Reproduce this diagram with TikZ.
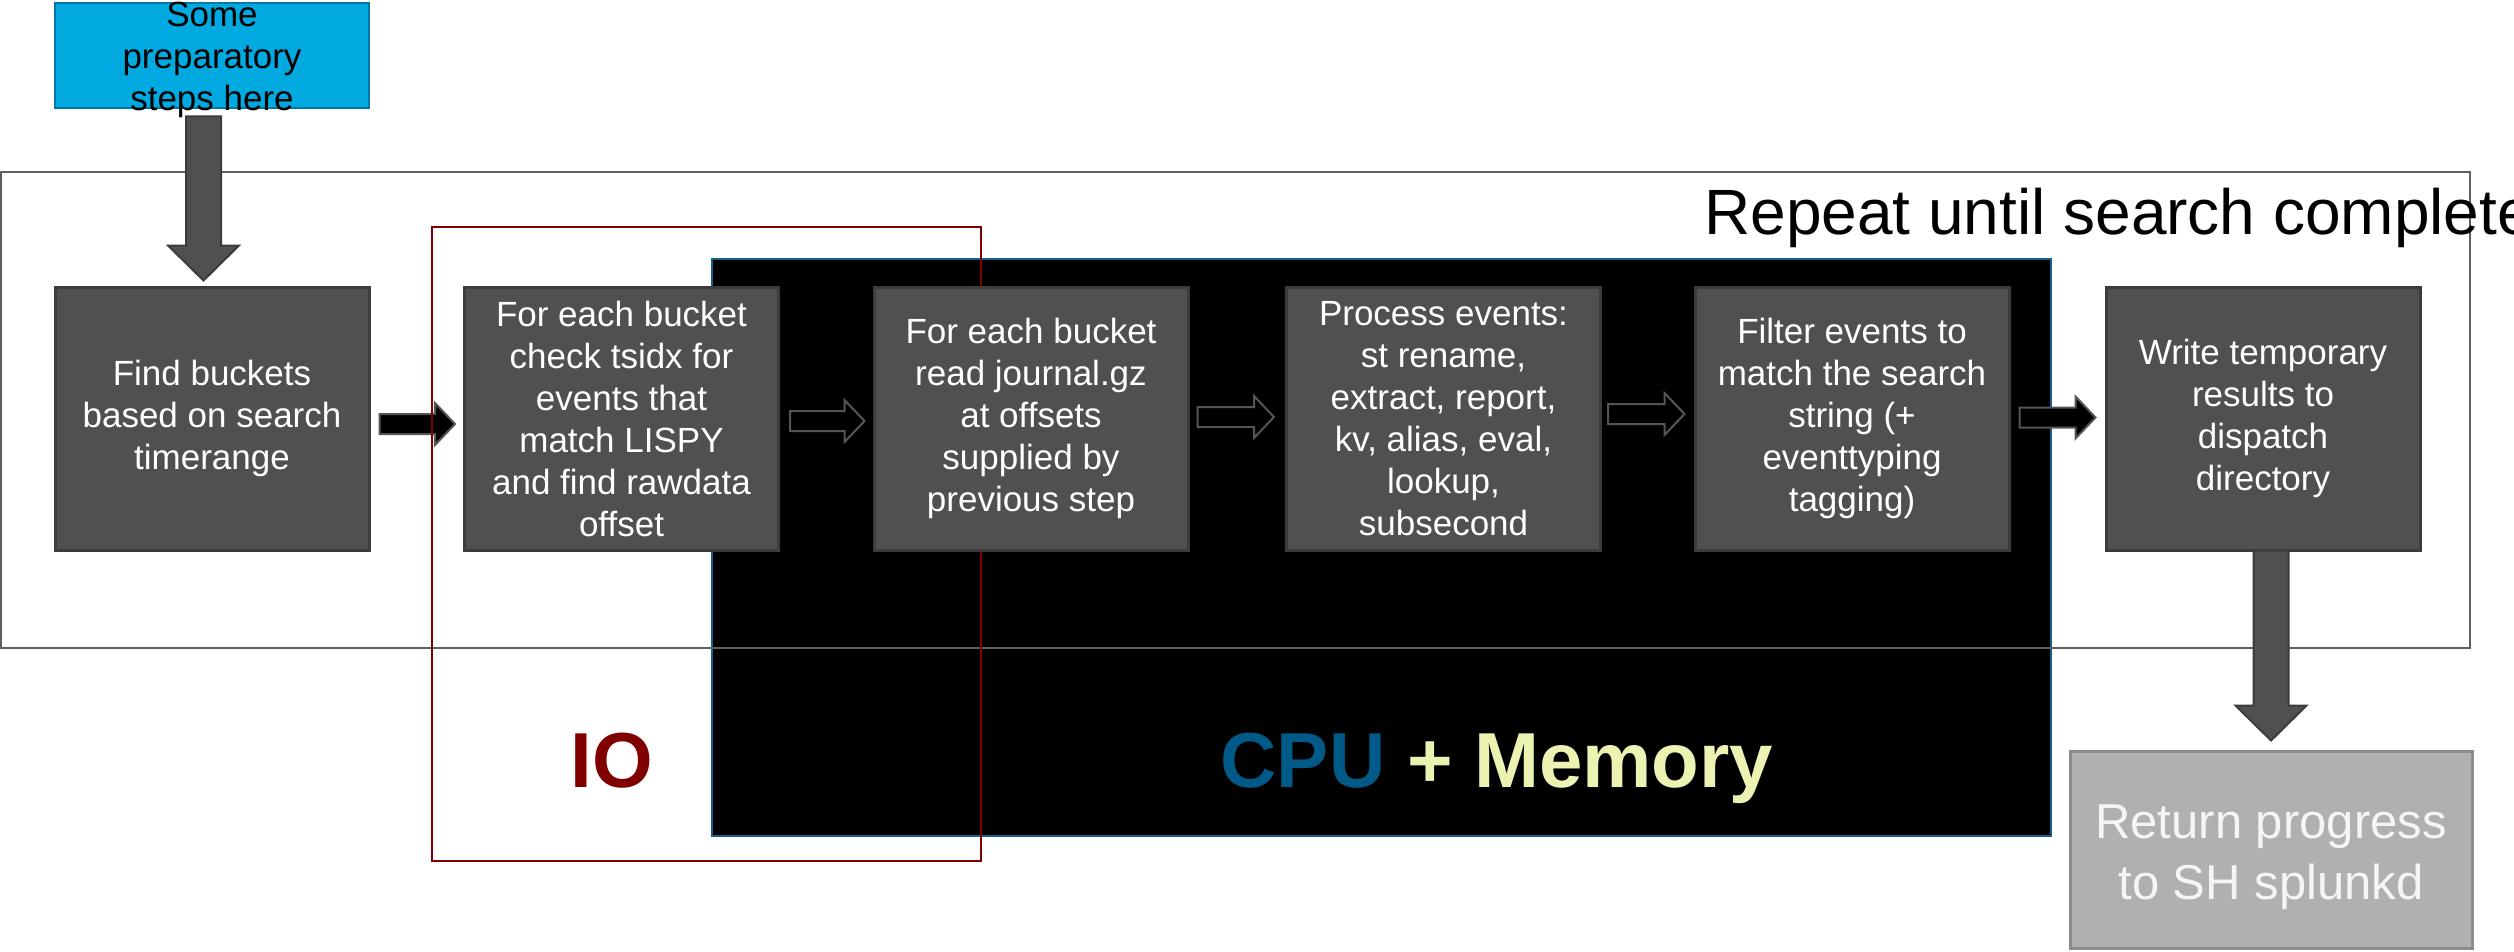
\documentclass[tikz,border=0pt]{standalone}
\usepackage{fontspec}
\setmainfont{Liberation Sans}
\usetikzlibrary{calc}
\definecolor{boxfill}{RGB}{80,80,80}
\definecolor{boxline}{RGB}{60,60,60}
\definecolor{prepfill}{RGB}{0,169,224}
\definecolor{prepline}{RGB}{0,120,165}
\definecolor{retfill}{RGB}{176,176,176}
\definecolor{retline}{RGB}{140,140,140}
\definecolor{iored}{RGB}{128,0,0}
\definecolor{cpublue}{RGB}{0,90,135}
\definecolor{memyellow}{RGB}{235,242,178}
\definecolor{outergray}{RGB}{95,95,95}
\definecolor{blkline}{RGB}{20,95,140}
\definecolor{arrline}{RGB}{85,85,85}
% horizontal block arrow: style, start coordinate, tip coordinate
\newcommand{\harr}[3]{\draw[#1] let \p1=#2, \p2=#3 in
  (\x1,{\y1+10pt}) -- ({\x2-20pt},{\y1+10pt}) -- ({\x2-20pt},{\y1+21pt}) -- (\x2,\y1)
  -- ({\x2-20pt},{\y1-21pt}) -- ({\x2-20pt},{\y1-10pt}) -- (\x1,{\y1-10pt}) -- cycle;}
% vertical (downward) block arrow: style, start coordinate, tip coordinate
\newcommand{\varr}[3]{\draw[#1] let \p1=#2, \p2=#3 in
  ({\x1-17.5pt},\y1) -- ({\x1-17.5pt},{\y2+35pt}) -- ({\x1-35.5pt},{\y2+35pt}) -- (\x1,\y2)
  -- ({\x1+35.5pt},{\y2+35pt}) -- ({\x1+17.5pt},{\y2+35pt}) -- ({\x1+17.5pt},\y1) -- cycle;}
\tikzset{
  stepbox/.style={draw=boxline, line width=3pt, fill=boxfill, text=white,
    minimum width=314pt, minimum height=263pt, inner sep=0pt, align=center,
    font=\fontsize{35}{42}\selectfont},
  blockarrow/.style={fill=black, draw=arrline, line width=2pt},
  downarrow/.style={fill=boxfill, draw=boxline, line width=2pt},
}
\begin{document}
\begin{tikzpicture}[x=1pt,y=-1pt]
\useasboundingbox (0,0) rectangle (2514,951);
\clip (0,0) rectangle (2514,951);
% containers
\node[fill=black, draw=blkline, line width=2pt, minimum width=1339pt, minimum height=577pt, inner sep=0pt] (cpubox) at (1381.5,547.5) {};
\node[draw=outergray, line width=2.5pt, minimum width=2469pt, minimum height=476pt, inner sep=0pt] (loop) at (1235.5,410) {};
\node[anchor=base west, inner sep=0pt, font=\fontsize{64}{77}\selectfont] (rep) at (1704,234) {Repeat until search complete};
\node[anchor=base, inner sep=0pt, text=iored, font=\bfseries\fontsize{78}{94}\selectfont] (io) at (611.5,787) {IO};
\node[anchor=base, inner sep=0pt, font=\bfseries\fontsize{78}{94}\selectfont] (cpu) at (1497,787) {\textcolor{cpublue}{CPU} \textcolor{memyellow}{+ Memory}};
% preparatory box
\node[draw=prepline, line width=2.5pt, fill=prepfill, minimum width=314pt, minimum height=105pt, inner sep=0pt] (prep) at (212,55.5) {};
\node[align=center, inner sep=0pt, font=\fontsize{35}{42}\selectfont] (preptext) at ($(prep.center)+(0,4)$) {Some\\preparatory\\steps here};
% step boxes
\coordinate (c1) at (212,418.5);
\coordinate (c2) at (621.5,418.5);
\coordinate (c3) at (1031,418.5);
\coordinate (c4) at (1443.5,418.5);
\coordinate (c5) at (1852,418.5);
\coordinate (c6) at (2263,418.5);
\node[stepbox] (b1) at (c1) {Find buckets\\based on search\\timerange};
\node[stepbox] (b2) at (c2) {For each bucket\\check tsidx for\\events that\\match LISPY\\and find rawdata\\offset};
% arrow b1 -> b2
\coordinate (a1s) at ($(b1.east)+(9,5.5)$);
\coordinate (a1e) at ($(b2.west)+(-8,5.5)$);
\harr{blockarrow}{(a1s)}{(a1e)}
% IO box
\node[draw=iored, line width=2pt, minimum width=549pt, minimum height=634pt, inner sep=0pt] (iobox) at (706.5,544) {};
\node[stepbox] (b3) at (c3) {For each bucket\\read journal.gz\\at offsets\\supplied by\\previous step};
\node[stepbox] (b4) at (c4) {Process events:\\st rename,\\extract, report,\\kv, alias, eval,\\lookup,\\subsecond};
\node[stepbox] (b5) at (c5) {Filter events to\\match the search\\string (+\\eventtyping\\tagging)};
\node[stepbox] (b6) at (c6) {Write temporary\\results to\\dispatch\\directory};
\node[draw=retline, line width=3pt, fill=retfill, minimum width=402pt, minimum height=197pt, inner sep=0pt] (ret) at (2271,849.5) {};
\node[text=white!96!black, inner sep=0pt, align=center, font=\fontsize{49}{61}\selectfont] (rettext) at ($(ret.center)+(0,8)$) {Return progress\\to SH splunkd};
% arrows between steps
\coordinate (a2s) at ($(b2.east)+(10,2.5)$);
\coordinate (a2e) at ($(b3.west)+(-8,2.5)$);
\harr{blockarrow}{(a2s)}{(a2e)}
\coordinate (a3s) at ($(b3.east)+(8,-1.5)$);
\coordinate (a3e) at ($(b4.west)+(-11,-1.5)$);
\harr{blockarrow}{(a3s)}{(a3e)}
\coordinate (a4s) at ($(b4.east)+(6,-4.5)$);
\coordinate (a4e) at ($(b5.west)+(-9,-4.5)$);
\harr{blockarrow}{(a4s)}{(a4e)}
\coordinate (a5s) at ($(b5.east)+(9,-1)$);
\coordinate (a5e) at ($(b6.west)+(-9,-1)$);
\harr{blockarrow}{(a5s)}{(a5e)}
% down arrows
\coordinate (d1s) at ($(prep.south)+(-8.5,7)$);
\coordinate (d1e) at ($(b1.north)+(-8.5,-5)$);
\varr{downarrow}{(d1s)}{(d1e)}
\coordinate (d2s) at ($(b6.south)+(8,-1)$);
\coordinate (d2e) at ($(ret.north)+(0,-9)$);
\varr{downarrow}{(d2s)}{(d2e)}
\end{tikzpicture}
\end{document}
